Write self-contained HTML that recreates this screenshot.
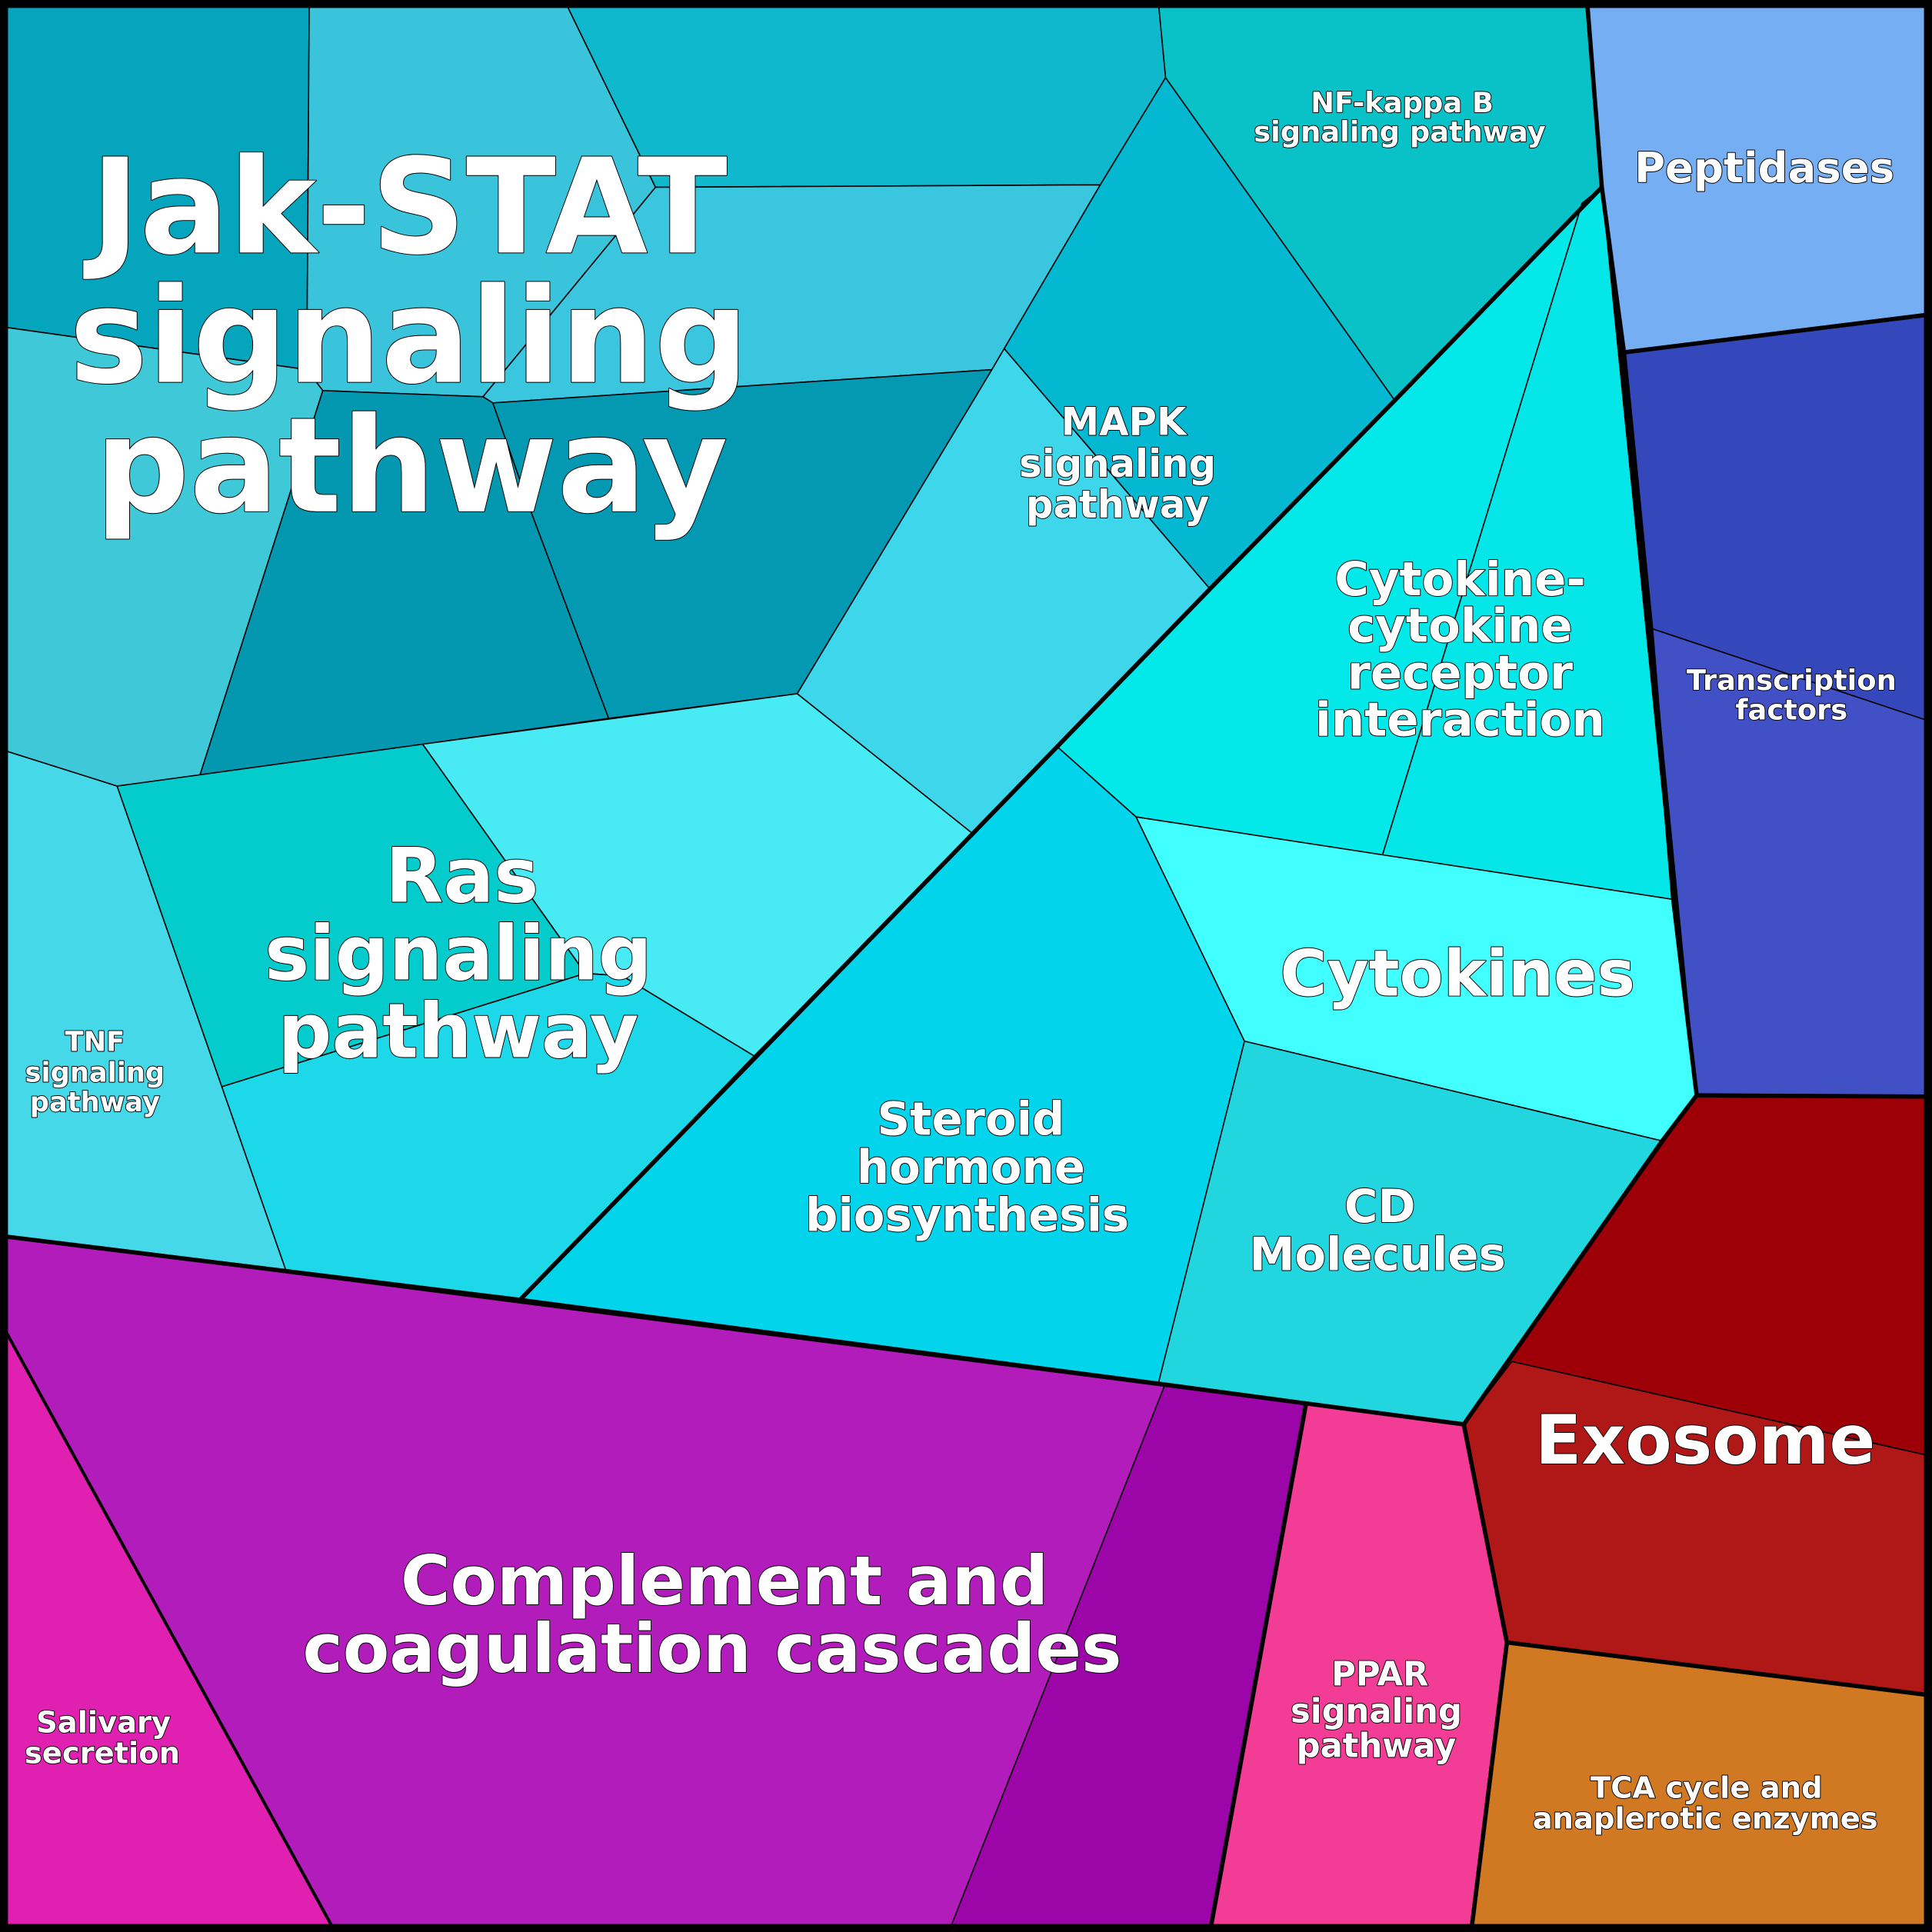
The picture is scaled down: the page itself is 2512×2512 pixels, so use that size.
<!DOCTYPE html>
<html><head><meta charset="utf-8"><style>
html,body{margin:0;padding:0;background:#000}
svg{display:block}
text{font-family:"DejaVu Sans","Liberation Sans",sans-serif;font-weight:bold;fill:#fff;text-anchor:middle;paint-order:stroke;stroke:#000;stroke-width:1.2;stroke-linejoin:round}
</style></head><body>
<svg width="2512" height="2512" viewBox="0 0 1568 1568" xmlns="http://www.w3.org/2000/svg">
<g stroke="#000" stroke-width="1" stroke-linejoin="round">
<polygon fill="#04a5bd" points="0,0 251,0 249,300 0,265"/>
<polygon fill="#3ac4dc" points="251,0 458,0 532,152 392,322 262,317 249,300"/>
<polygon fill="#0fb8cc" points="458,0 940,0 946,63 893,150 532,152"/>
<polygon fill="#3ac6de" points="532,152 893,150 805,300 400,327 392,322"/>
<polygon fill="#3ec8d8" points="0,265 249,300 262,317 162,630 95,638 0,608"/>
<polygon fill="#0397b0" points="262,317 392,322 400,327 432,418 494,583 343,604 162,630"/>
<polygon fill="#0399b2" points="400,327 805,300 647,563 494,583 432,418"/>
<polygon fill="#03b8d0" points="946,63 1132,325 982,478 815,283 893,150"/>
<polygon fill="#3dd6ea" points="815,283 982,478 790,677 647,563 805,300"/>
<polygon fill="#08c2c8" points="940,0 1288,0 1300,152 1132,325 946,63"/>
<polygon fill="#75aef2" points="1288,0 1568,0 1568,255 1318,286 1300,152"/>
<polygon fill="#3447bb" points="1318,286 1568,255 1568,586 1340,510"/>
<polygon fill="#4150c4" points="1340,510 1568,586 1568,890 1377,889"/>
<polygon fill="#03e8e8" points="1300,152 1284,165 1122,694 922,663 858,606 982,478 1132,325"/>
<polygon fill="#04e6e8" points="1284,165 1300,152 1358,730 1122,694"/>
<polygon fill="#41ffff" points="922,663 1358,730 1377,889 1349,926 1010,845"/>
<polygon fill="#22d6e0" points="1010,845 1349,926 1188,1156 940,1123"/>
<polygon fill="#02d4ec" points="858,606 922,663 1010,845 940,1123 422,1055"/>
<polygon fill="#48eaf4" points="343,604 647,563 790,677 612,857 505,792 475,790"/>
<polygon fill="#05cccc" points="95,638 343,604 475,790 180,882"/>
<polygon fill="#1cd8e8" points="180,882 475,790 505,792 612,857 422,1055 232,1031"/>
<polygon fill="#44d8e8" points="0,608 95,638 180,882 232,1031 0,1003"/>
<polygon fill="#b21cbb" points="0,1003 945,1125 770,1568 272,1568 0,1072"/>
<polygon fill="#9c06a8" points="945,1125 1060,1139 982,1568 770,1568"/>
<polygon fill="#e020b0" points="0,1072 272,1568 0,1568"/>
<polygon fill="#f23c96" points="1060,1139 1188,1156 1223,1333 1194,1568 982,1568"/>
<polygon fill="#9e0008" points="1188,1156 1377,889 1568,890 1568,1182 1227,1105"/>
<polygon fill="#b01818" points="1188,1156 1227,1105 1568,1182 1568,1376 1223,1333"/>
<polygon fill="#d07822" points="1223,1333 1568,1376 1568,1568 1194,1568"/>
</g>
<g fill="none" stroke="#000" stroke-width="3.5" stroke-linejoin="round">
<polyline points="0,1003 422,1055 940,1123 1060,1139 1188,1156 1349,926 1377,889 1568,890"/>
<polyline points="422,1055 858,606 982,478 1132,325 1300,152 1288,0"/>
<polyline points="1300,152 1318,286 1568,255"/>
<polyline points="1318,286 1340,510 1358,730 1377,889"/>
<polyline points="1188,1156 1223,1333 1568,1376"/>
<polyline points="1223,1333 1194,1568"/>
<polyline points="0,1072 272,1568" stroke-width="2.5"/>
<polyline points="1060,1139 982,1568"/>
<rect x="3" y="3" width="1562" height="1562" stroke-width="7"/>
</g>
<text font-size="107" x="332" y="205">Jak-STAT</text>
<text font-size="107" x="332" y="310">signaling</text>
<text font-size="107" x="334" y="415">pathway</text>
<text font-size="61" x="375" y="732">Ras</text>
<text font-size="61" x="372" y="795">signaling</text>
<text font-size="61" x="372" y="858">pathway</text>
<text font-size="55" x="588" y="1302">Complement and</text>
<text font-size="55" x="578" y="1357">coagulation cascades</text>
<text font-size="52" x="1183" y="808">Cytokines</text>
<text font-size="55" x="1384" y="1188">Exosome</text>
<text font-size="38" x="1185" y="483">Cytokine-</text>
<text font-size="38" x="1185" y="521">cytokine</text>
<text font-size="38" x="1185" y="559">receptor</text>
<text font-size="38" x="1185" y="597">interaction</text>
<text font-size="37" x="788" y="921">Steroid</text>
<text font-size="37" x="788" y="960">hormone</text>
<text font-size="37" x="785" y="999">biosynthesis</text>
<text font-size="37" x="1120" y="992">CD</text>
<text font-size="37" x="1118" y="1031">Molecules</text>
<text font-size="31" x="912" y="353">MAPK</text>
<text font-size="31" x="907" y="387">signaling</text>
<text font-size="31" x="907" y="420">pathway</text>
<text font-size="34" x="1432" y="148">Peptidases</text>
<text font-size="23" x="1138" y="91">NF-kappa B</text>
<text font-size="23" x="1136" y="115">signaling pathway</text>
<text font-size="23" x="1454" y="560">Transcription</text>
<text font-size="23" x="1454" y="584">factors</text>
<text font-size="22" x="77" y="853">TNF</text>
<text font-size="22" x="77" y="878">signaling</text>
<text font-size="22" x="77" y="902">pathway</text>
<text font-size="24" x="84" y="1406">Salivary</text>
<text font-size="24" x="83" y="1431">secretion</text>
<text font-size="27" x="1120" y="1368">PPAR</text>
<text font-size="27" x="1117" y="1398">signaling</text>
<text font-size="27" x="1117" y="1426">pathway</text>
<text font-size="24" x="1385" y="1459">TCA cycle and</text>
<text font-size="24" x="1384" y="1484">anaplerotic enzymes</text>
</svg>
</body></html>
